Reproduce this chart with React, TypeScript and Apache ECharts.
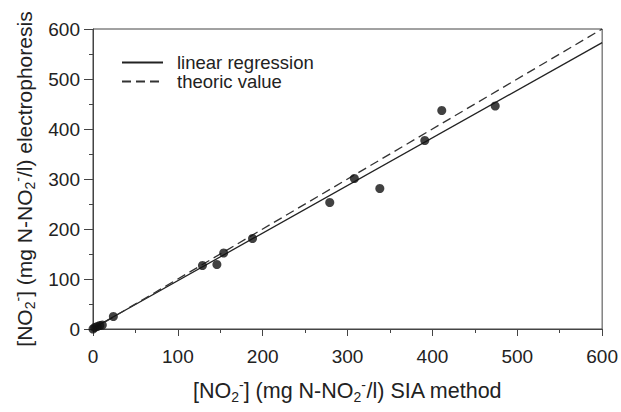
import React, { useEffect, useRef } from "react";
import * as echarts from "echarts";

const scatterPoints: [number, number][] = [
  [0, 0], [2, 3], [5, 5], [8, 7], [11, 8],
  [24, 25], [129, 127], [146, 129], [154, 152], [188, 181],
  [279, 253], [308, 301], [338, 281], [391, 377], [411, 437], [474, 446],
];
const regressionLine: [number, number][] = [[0, 1.5], [600, 572.7]];
const theoricLine: [number, number][] = [[0, 0], [600, 600]];
const legendNames = ["linear regression", "theoric value"];
const xTitle = "[NO{sub|2}{sup|-}] (mg N-NO{sub|2}{sup|-}/l) SIA method";
const yTitle = "[NO{sub|2}{sup|-}] (mg N-NO{sub|2}{sup|-}/l) electrophoresis";

const FONT = "'Liberation Sans', Arial, Helvetica, sans-serif";
const TXT = "#222";
const AX = "#444";

const richStyles = {
  sub: { fontSize: 14, verticalAlign: "bottom", lineHeight: 15, color: TXT, fontFamily: FONT },
  sup: { fontSize: 14, verticalAlign: "top", lineHeight: 15, color: TXT, fontFamily: FONT },
};

export default function App() {
  const ref = useRef<HTMLDivElement>(null);
  useEffect(() => {
    document.body.style.margin = "0";
    const chart = echarts.init(ref.current!, null, { renderer: "svg" });
    const axisCommon = {
      type: "value",
      min: 0,
      max: 600,
      interval: 100,
      nameLocation: "middle",
      axisLine: { show: true, lineStyle: { color: AX, width: 1 } },
      splitLine: { show: false },
      minorTick: { show: true, splitNumber: 2, length: 4, lineStyle: { color: AX } },
    };
    chart.setOption({
      animation: false,
      backgroundColor: "#fff",
      textStyle: { fontFamily: FONT },
      grid: {
        left: 93, right: 11, top: 29, bottom: 83,
        show: true, borderColor: AX, borderWidth: 1, backgroundColor: "transparent",
      },
      legend: {
        data: legendNames,
        orient: "vertical",
        left: 121,
        top: 53,
        padding: 0,
        itemWidth: 41,
        itemHeight: 14,
        itemGap: 0,
        itemStyle: { opacity: 0 },
        textStyle: { fontSize: 18.5, lineHeight: 19, color: TXT, fontFamily: FONT, padding: [0, 0, 0, 9] },
      },
      xAxis: {
        ...axisCommon,
        name: xTitle,
        nameGap: 49,
        nameTextStyle: { fontSize: 21.5, color: TXT, fontFamily: FONT, lineHeight: 26, rich: richStyles },
        axisTick: { show: true, inside: false, length: 7, lineStyle: { color: AX } },
        axisLabel: { fontSize: 19, color: TXT, margin: 18, fontFamily: FONT },
      },
      yAxis: {
        ...axisCommon,
        name: yTitle,
        nameGap: 55,
        nameRotate: 90,
        nameTextStyle: { fontSize: 21, color: TXT, fontFamily: FONT, lineHeight: 26, rich: richStyles },
        axisTick: { show: true, inside: false, length: 9, lineStyle: { color: AX } },
        axisLabel: { fontSize: 19, color: TXT, margin: 13, fontFamily: FONT },
      },
      series: [
        {
          name: legendNames[0],
          type: "line",
          data: regressionLine,
          symbol: "none",
          lineStyle: { color: "#222", width: 1.3, type: "solid" },
          itemStyle: { color: "#222" },
          z: 2,
        },
        {
          name: legendNames[1],
          type: "line",
          data: theoricLine,
          symbol: "none",
          lineStyle: { color: "#333", width: 1.3, type: [9, 5] },
          itemStyle: { color: "#333" },
          z: 2,
        },
        {
          name: "data",
          type: "scatter",
          data: scatterPoints,
          symbol: "circle",
          symbolSize: 9,
          itemStyle: { color: "#111" },
          z: 3,
        },
      ],
    });
    return () => chart.dispose();
  }, []);
  return <div ref={ref} style={{ width: 621, height: 412 }} />;
}
